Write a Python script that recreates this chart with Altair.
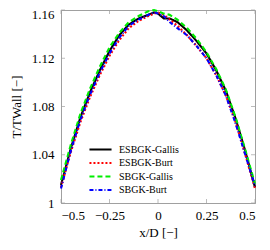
import altair as alt
import pandas as pd

x_vals = [-0.5, -0.45, -0.4, -0.35, -0.3, -0.25, -0.2, -0.15, -0.1, -0.05, -0.02, 0.0,
          0.03, 0.06, 0.1, 0.15, 0.2, 0.25, 0.3, 0.35, 0.4, 0.45, 0.5]
esbgk_gallis = [1.015, 1.045, 1.071, 1.092, 1.110, 1.126, 1.139, 1.148, 1.153, 1.156, 1.158, 1.157,
                1.153, 1.153, 1.150, 1.143, 1.134, 1.124, 1.110, 1.093, 1.070, 1.043, 1.013]
esbgk_burt = [1.013, 1.042, 1.067, 1.088, 1.106, 1.122, 1.135, 1.145, 1.151, 1.155, 1.157, 1.158,
              1.156, 1.152, 1.147, 1.139, 1.130, 1.120, 1.106, 1.089, 1.067, 1.040, 1.012]
sbgk_gallis = [1.019, 1.048, 1.074, 1.095, 1.113, 1.129, 1.141, 1.150, 1.155, 1.159, 1.160, 1.159,
               1.157, 1.156, 1.152, 1.145, 1.136, 1.125, 1.111, 1.094, 1.071, 1.044, 1.016]
sbgk_burt = [1.012, 1.043, 1.069, 1.090, 1.108, 1.124, 1.137, 1.147, 1.152, 1.156, 1.158, 1.157,
             1.155, 1.150, 1.145, 1.139, 1.130, 1.120, 1.106, 1.089, 1.066, 1.040, 1.014]

series_names = ["ESBGK-Gallis", "ESBGK-Burt", "SBGK-Gallis", "SBGK-Burt"]
series_colors = ["#000000", "#ff0000", "#00ee00", "#0000ff"]
series_dashes = [[1, 0], [2, 2], [5, 3], [4, 2, 1, 2]]
x_ticks = [-0.5, -0.25, 0, 0.25, 0.5]
y_ticks = [1, 1.04, 1.08, 1.12, 1.16]

rows = []
for name, ys in zip(series_names, [esbgk_gallis, esbgk_burt, sbgk_gallis, sbgk_burt]):
    for i, (xv, yv) in enumerate(zip(x_vals, ys)):
        rows.append({"series": name, "x": xv, "y": yv, "o": i})
df = pd.DataFrame(rows)

FONT = "Liberation Serif"
GREY = "#a0a0a0"

xscale = alt.Scale(domain=[-0.5, 0.5], nice=False)
yscale = alt.Scale(domain=[1.0, 1.16], nice=False, zero=False)

legend = alt.Legend(
    title=None, orient="none", legendX=31.5, legendY=131.5, direction="vertical", columns=1,
    symbolType="M-1.7,0H1.7", symbolSize=169, symbolStrokeWidth=2.2,
    labelFont=FONT, labelFontSize=10, labelOffset=10.5, rowPadding=0.5,
)

lines = alt.Chart(df).mark_line(strokeWidth=2.1).encode(
    x=alt.X("x:Q", scale=xscale, title="x/D [−]",
            axis=alt.Axis(values=x_ticks, format=".2~f", tickSize=0, labelPadding=6, grid=False)),
    y=alt.Y("y:Q", scale=yscale, title="T/TWall [−]",
            axis=alt.Axis(values=y_ticks, format=".2~f", tickSize=0, labelPadding=7, grid=False,
                          labelOffset=alt.expr("datum.value > 1.159 ? 4 : 0"))),
    color=alt.Color("series:N", scale=alt.Scale(domain=series_names, range=series_colors), legend=legend),
    strokeDash=alt.StrokeDash("series:N", scale=alt.Scale(domain=series_names, range=series_dashes), legend=legend),
    order="o:Q",
)

xt = pd.DataFrame({"t": x_ticks})
yt = pd.DataFrame({"t": y_ticks})
tick_bottom = alt.Chart(xt).mark_tick(orient="vertical", size=4, thickness=1, yOffset=-2, color=GREY).encode(
    x=alt.X("t:Q", scale=xscale), y=alt.datum(1.0))
tick_top = alt.Chart(xt).mark_tick(orient="vertical", size=4, thickness=1, yOffset=2, color=GREY).encode(
    x=alt.X("t:Q", scale=xscale), y=alt.datum(1.16))
tick_left = alt.Chart(yt).mark_tick(orient="horizontal", size=4, thickness=1, xOffset=2, color=GREY).encode(
    y=alt.Y("t:Q", scale=yscale), x=alt.datum(-0.5))
tick_right = alt.Chart(yt).mark_tick(orient="horizontal", size=4, thickness=1, xOffset=-2, color=GREY).encode(
    y=alt.Y("t:Q", scale=yscale), x=alt.datum(0.5))

chart = alt.layer(tick_bottom, tick_top, tick_left, tick_right, lines).properties(
    width=194, height=193,
    autosize=alt.AutoSizeParams(type="none"),
    padding={"left": 53, "top": 2, "right": 7, "bottom": 39},
).configure_view(stroke=GREY, strokeWidth=1).configure_axis(
    domainColor=GREY, labelFont=FONT, labelFontSize=13, labelColor="#000",
    titleFont=FONT, titleFontSize=13, titleFontWeight="normal", titleColor="#000",
).configure_axisX(titlePadding=4).configure_axisY(titlePadding=8)

chart.save("out.html", embed_options={"renderer": "svg", "actions": False})
